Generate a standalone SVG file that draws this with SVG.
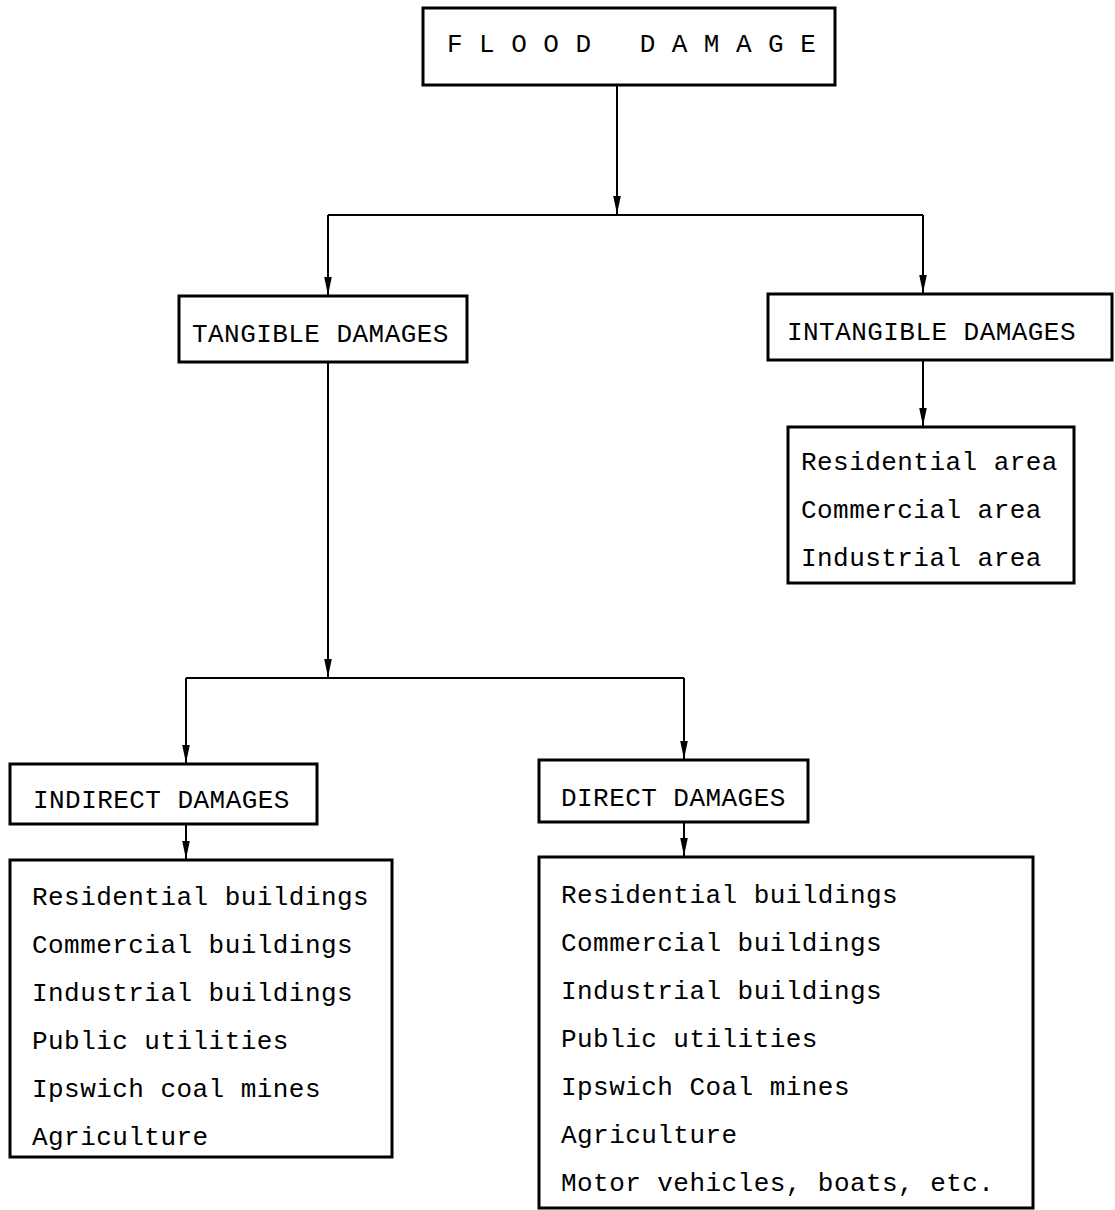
<svg xmlns="http://www.w3.org/2000/svg" width="1115" height="1210" viewBox="0 0 1115 1210">
<style>
.box{fill:#fff;stroke:#000;stroke-width:3}
.t{font-family:"Liberation Mono","DejaVu Sans Mono",monospace;font-size:26px;fill:#000;letter-spacing:0.45px}
.c{fill:none;stroke:#000;stroke-width:2}
</style>
<defs>
<marker id="ah" viewBox="0 -4 18 8" refX="18" refY="0" markerWidth="18" markerHeight="8" markerUnits="userSpaceOnUse" orient="auto">
<path d="M0,-3.8 L18,0 L0,3.8 z" fill="#000"/>
</marker>
</defs>
<rect width="1115" height="1210" fill="#fff"/>
<g id="connectors">
<path class="c" d="M617,85 V214" marker-end="url(#ah)"/>
<path class="c" d="M328,215 H923"/>
<path class="c" d="M328,215 V295" marker-end="url(#ah)"/>
<path class="c" d="M923,215 V293" marker-end="url(#ah)"/>
<path class="c" d="M923,360 V426" marker-end="url(#ah)"/>
<path class="c" d="M328,362 V677" marker-end="url(#ah)"/>
<path class="c" d="M186,678 H684"/>
<path class="c" d="M186,678 V763" marker-end="url(#ah)"/>
<path class="c" d="M684,678 V759" marker-end="url(#ah)"/>
<path class="c" d="M186,824 V859" marker-end="url(#ah)"/>
<path class="c" d="M684,822 V856" marker-end="url(#ah)"/>
</g>
<g id="flood-damage">
<rect class="box" x="423" y="8" width="412" height="77"/>
<text class="t" x="447" y="52" xml:space="preserve">F L O O D   D A M A G E</text>
</g>
<g id="tangible">
<rect class="box" x="179" y="296" width="288" height="66"/>
<text class="t" x="192" y="342">TANGIBLE DAMAGES</text>
</g>
<g id="intangible">
<rect class="box" x="768" y="294" width="344" height="66"/>
<text class="t" x="787" y="340">INTANGIBLE DAMAGES</text>
</g>
<g id="intangible-list">
<rect class="box" x="788" y="427" width="286" height="156"/>
<text class="t" x="801" y="470">Residential area</text>
<text class="t" x="801" y="518">Commercial area</text>
<text class="t" x="801" y="566">Industrial area</text>
</g>
<g id="indirect">
<rect class="box" x="10" y="764" width="307" height="60"/>
<text class="t" x="33" y="808">INDIRECT DAMAGES</text>
</g>
<g id="direct">
<rect class="box" x="539" y="760" width="269" height="62"/>
<text class="t" x="561" y="806">DIRECT DAMAGES</text>
</g>
<g id="indirect-list">
<rect class="box" x="10" y="860" width="382" height="297"/>
<text class="t" x="32" y="905">Residential buildings</text>
<text class="t" x="32" y="953">Commercial buildings</text>
<text class="t" x="32" y="1001">Industrial buildings</text>
<text class="t" x="32" y="1049">Public utilities</text>
<text class="t" x="32" y="1097">Ipswich coal mines</text>
<text class="t" x="32" y="1145">Agriculture</text>
</g>
<g id="direct-list">
<rect class="box" x="539" y="857" width="494" height="351"/>
<text class="t" x="561" y="903">Residential buildings</text>
<text class="t" x="561" y="951">Commercial buildings</text>
<text class="t" x="561" y="999">Industrial buildings</text>
<text class="t" x="561" y="1047">Public utilities</text>
<text class="t" x="561" y="1095">Ipswich Coal mines</text>
<text class="t" x="561" y="1143">Agriculture</text>
<text class="t" x="561" y="1191">Motor vehicles, boats, etc.</text>
</g>
</svg>
